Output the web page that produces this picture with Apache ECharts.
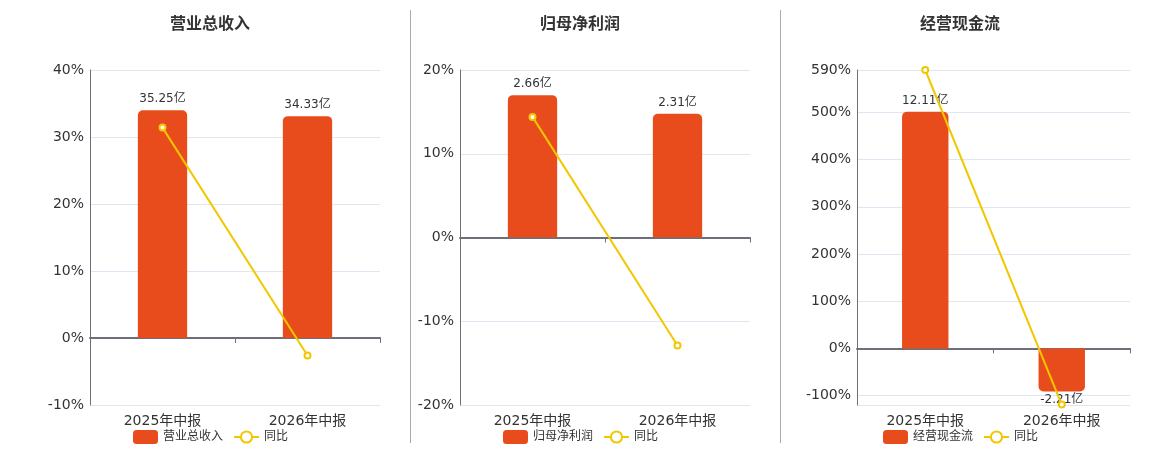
<!DOCTYPE html>
<html lang="zh">
<head>
	<meta charset="UTF-8">
	<title>财务指标</title>
	<style type="text/css">
	html, body {
		margin: 0;
		padding: 0;
		background: #fff;
	}
	.chart {
		width: 1160px;
		height: 450px;
	}
	</style>
</head>
<body>
	<div class="chart"></div>

	<script type="text/javascript" src="https://cdn.jsdelivr.net/npm/echarts@6/dist/echarts.min.js"></script>
	<script type="text/javascript">

		// 数据
		var categories = ['2025年中报', '2026年中报'];
		var titles = ['营业总收入', '归母净利润', '经营现金流'];
		var revenue = [35.25, 34.33];
		var profit = [2.66, 2.31];
		var cashFlow = [12.11, -2.21];
		var revenueYoy = [31.4, -2.6];
		var profitYoy = [14.4, -12.9];
		var cashFlowYoy = [590, -119];
		var pctMin = [-10, -20, -120];
		var pctMax = [40, 20, 590];
		var pctInterval = [10, 10, null];

		var barData = [revenue, profit, cashFlow];
		var yoyData = [revenueYoy, profitYoy, cashFlowYoy];

		// 每个小图的位置
		var grids = [
			{left: 90, width: 290, top: 70, height: 335},
			{left: 460, width: 290, top: 70, height: 335},
			{left: 857, width: 273, top: 70, height: 335}
		];
		var titleLeft = [165, 535, 915];
		var legendLeft = [128, 498, 878];

		var barColor = '#e84c1c';
		var lineColor = '#f2c700';
		var fontFamily = 'DejaVu Sans, Noto Sans CJK SC, sans-serif';

		var chart = echarts.init(document.getElementsByClassName('chart')[0]);

		var option = {
			animation: false,
			textStyle: {fontFamily: fontFamily},
			title: [],
			legend: [],
			grid: grids,
			xAxis: [],
			yAxis: [],
			series: [],
			graphic: [
				{type: 'line', shape: {x1: 410.5, y1: 10, x2: 410.5, y2: 443}, style: {stroke: '#aaa', lineWidth: 1}},
				{type: 'line', shape: {x1: 780.5, y1: 10, x2: 780.5, y2: 443}, style: {stroke: '#aaa', lineWidth: 1}}
			]
		};

		titles.forEach(function (name, i) {
			option.title.push({
				text: name,
				left: titleLeft[i],
				top: 12,
				textStyle: {fontSize: 16, fontWeight: 'bold', color: '#333', fontFamily: fontFamily}
			});

			option.legend.push({
				data: [
					{name: name, icon: 'roundRect'},
					{name: '同比'}
				],
				left: legendLeft[i],
				top: 425,
				itemWidth: 25,
				itemHeight: 14,
				itemGap: 10,
				textStyle: {fontSize: 12, color: '#333'}
			});

			// 下方文字的x轴
			option.xAxis.push({
				type: 'category',
				gridIndex: i,
				data: categories,
				position: 'bottom',
				axisLine: {show: false, onZero: false},
				axisTick: {show: false},
				axisLabel: {fontSize: 14, color: '#333', margin: 9}
			});
			// 0刻度处的轴线
			option.xAxis.push({
				type: 'category',
				gridIndex: i,
				data: categories,
				position: 'top',
				axisLine: {show: true, onZero: true, lineStyle: {color: '#6e7079', width: 2}},
				axisTick: {show: true, inside: true, length: 5, lineStyle: {color: '#6e7079'}},
				axisLabel: {show: false}
			});

			var pctAxis = {
				type: 'value',
				gridIndex: i,
				min: pctMin[i],
				max: pctMax[i],
				axisLine: {show: true, lineStyle: {color: '#6e7079'}},
				axisTick: {show: false},
				axisLabel: {
					fontSize: 14,
					color: '#333',
					margin: 6,
					formatter: '{value}%'
				},
				splitLine: {lineStyle: {color: '#e0e6f1'}}
			};
			if (pctInterval[i]) {
				pctAxis.interval = pctInterval[i];
			} else {
				pctAxis.splitNumber = 7;
				pctAxis.axisLabel.showMinLabel = false;
			}
			option.yAxis.push(pctAxis);

			// 柱子用的隐藏轴, 0 与左轴对齐
			var barMax = Math.max.apply(null, barData[i]) / 0.85;
			var barMin = barMax * pctMin[i] / pctMax[i];
			option.yAxis.push({
				type: 'value',
				gridIndex: i,
				min: barMin,
				max: barMax,
				show: false,
				splitLine: {show: false}
			});

			option.series.push({
				name: name,
				type: 'bar',
				xAxisIndex: i * 2,
				yAxisIndex: i * 2 + 1,
				barWidth: '34%',
				itemStyle: {color: barColor},
				label: {
					show: true,
					position: 'outside',
					distance: 5,
					fontSize: 12,
					color: '#333',
					formatter: function (p) {
						return p.value + '亿';
					}
				},
				data: barData[i].map(function (v) {
					return {
						value: v,
						itemStyle: {borderRadius: v < 0 ? [0, 0, 5, 5] : [5, 5, 0, 0]},
						label: {distance: v < 0 ? 2 : 5}
					};
				})
			});

			option.series.push({
				name: '同比',
				type: 'line',
				xAxisIndex: i * 2,
				yAxisIndex: i * 2,
				symbol: 'emptyCircle',
				symbolSize: 6,
				z: 5,
				lineStyle: {color: lineColor, width: 2},
				itemStyle: {color: lineColor, borderWidth: 2},
				data: yoyData[i]
			});
		});

		chart.setOption(option);

	</script>
</body>
</html>
